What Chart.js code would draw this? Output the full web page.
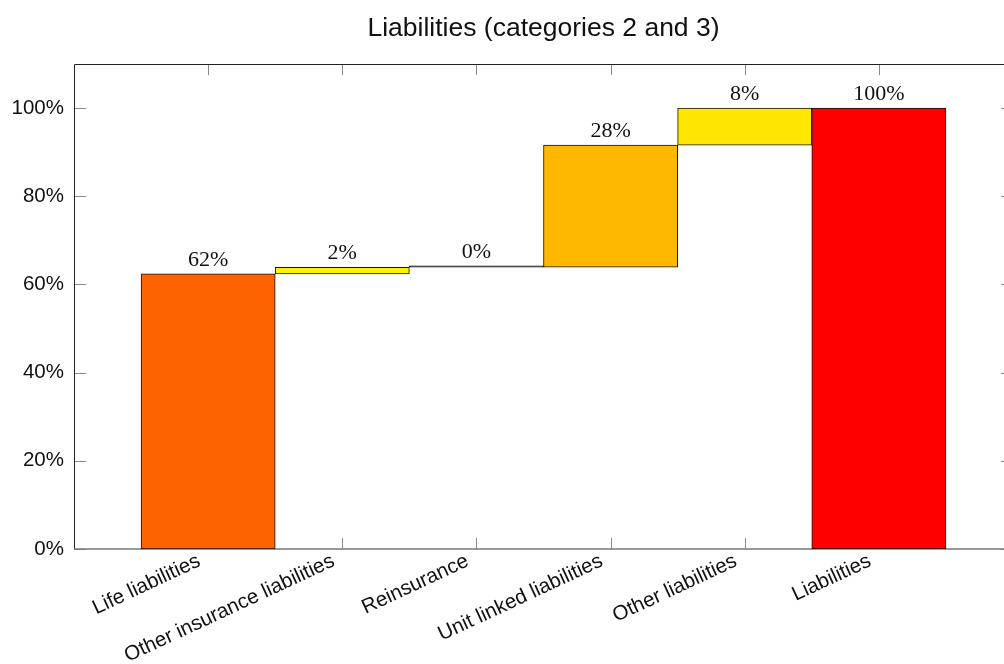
<!DOCTYPE html>
<html>
<head>
<meta charset="utf-8">
<script src="https://cdn.jsdelivr.net/npm/chart.js@4.4.1/dist/chart.umd.min.js"></script>
<style>
  html, body { margin: 0; padding: 0; background: #fff; overflow: hidden; }
  #wrap { width: 1016px; height: 664px; }
</style>
</head>
<body>
<div id="wrap"><canvas id="chart"></canvas></div>
<script>
// waterfall data: share of total liabilities (%)
const CATEGORIES = ["Life liabilities", "Other insurance liabilities", "Reinsurance",
                    "Unit linked liabilities", "Other liabilities", "Liabilities"];
const SHARES = [62.4, 1.5, 0, 27.7, 8.4, 100];
const IS_TOTAL = [false, false, false, false, false, true];
const BAR_COLORS = ["#FF6200", "#FFF200", "#111111", "#FFB800", "#FFE600", "#FF0000"];
const Y_TICKS = [0, 20, 40, 60, 80, 100];

// floating ranges for each step
let running = 0;
const ranges = SHARES.map((v, i) => {
  if (IS_TOTAL[i]) return [0, v];
  const r = [running, running + v];
  running += v;
  return r;
});
const barData = ranges.map((r, i) => ({ x: i, y: r }));

// frame + inward tick marks (pgfplots style)
const framePlugin = {
  id: "frame",
  beforeDatasetsDraw(chart) {
    const { ctx, chartArea: a, scales } = chart;
    ctx.save();
    ctx.strokeStyle = "#8a8a8a";
    ctx.lineWidth = 1;
    ctx.beginPath();
    Y_TICKS.forEach(v => {
      const y = Math.round(scales.y.getPixelForValue(v)) + 0.5;
      ctx.moveTo(a.left, y); ctx.lineTo(a.left + 12, y);
      ctx.moveTo(a.right, y); ctx.lineTo(a.right - 12, y);
    });
    CATEGORIES.forEach((c, i) => {
      const x = Math.round(scales.x.getPixelForValue(i)) + 0.5;
      ctx.moveTo(x, a.bottom); ctx.lineTo(x, a.bottom - 11);
      ctx.moveTo(x, a.top); ctx.lineTo(x, a.top + 11);
    });
    ctx.stroke();

    ctx.strokeStyle = "#222";
    ctx.beginPath();
    const l = Math.round(a.left) + 0.5, t = Math.round(a.top) + 0.5, r = Math.round(a.right) + 0.5;
    ctx.moveTo(l, a.bottom); ctx.lineTo(l, t); ctx.lineTo(r, t); ctx.lineTo(r, a.bottom);
    ctx.stroke();

    ctx.strokeStyle = "#777";
    ctx.lineWidth = 1.5;
    ctx.beginPath();
    ctx.moveTo(a.left, a.bottom); ctx.lineTo(a.right, a.bottom);
    ctx.stroke();
    ctx.restore();
  }
};

// value labels above bars
const valueLabels = {
  id: "valueLabels",
  afterDatasetsDraw(chart) {
    const { ctx } = chart;
    const meta = chart.getDatasetMeta(0);
    ctx.save();
    ctx.font = '22px "Liberation Serif", "DejaVu Serif", serif';
    ctx.fillStyle = "#111";
    ctx.textAlign = "center";
    ctx.textBaseline = "alphabetic";
    meta.data.forEach((el, i) => {
      const top = Math.min(el.y, el.base);
      ctx.fillText(Math.round(SHARES[i]) + "%", el.x, top - 8);
    });
    ctx.restore();
  }
};

new Chart(document.getElementById("chart"), {
  type: "bar",
  data: {
    datasets: [{
      data: barData,
      backgroundColor: BAR_COLORS,
      borderColor: "#111",
      borderWidth: 1,
      borderSkipped: false,
      minBarLength: 1.5,
      barPercentage: 1,
      categoryPercentage: 1
    }]
  },
  options: {
    responsive: true,
    maintainAspectRatio: false,
    animation: false,
    layout: { padding: { left: 0, right: 3, top: 0, bottom: 0 } },
    plugins: {
      legend: { display: false },
      tooltip: { enabled: false },
      title: {
        display: true,
        fullSize: false,
        text: "Liabilities (categories 2 and 3)",
        color: "#111",
        font: { family: '"Liberation Sans", Arial, sans-serif', size: 26.5, weight: "normal" },
        padding: { top: 13, bottom: 19.2 }
      }
    },
    scales: {
      x: {
        type: "linear",
        offset: false,
        min: -1,
        max: 6,
        grid: { display: false, drawTicks: false },
        border: { display: false },
        afterBuildTicks: s => { s.ticks = CATEGORIES.map((c, i) => ({ value: i })); },
        afterFit: s => { s.height = 115; },
        ticks: {
          autoSkip: false,
          minRotation: 25,
          maxRotation: 25,
          padding: 0,
          labelOffset: -9,
          color: "#111",
          font: { family: '"Liberation Sans", Arial, sans-serif', size: 20.5 },
          callback: v => CATEGORIES[v]
        }
      },
      y: {
        min: 0,
        max: 110,
        grid: { display: false, drawTicks: false },
        border: { display: false },
        afterBuildTicks: s => { s.ticks = Y_TICKS.map(v => ({ value: v })); },
        afterFit: s => { s.width = 74; },
        ticks: {
          padding: 10,
          color: "#111",
          font: { family: '"Liberation Sans", Arial, sans-serif', size: 20.5 },
          callback: v => v + "%"
        }
      }
    }
  },
  plugins: [framePlugin, valueLabels]
});
</script>
</body>
</html>
